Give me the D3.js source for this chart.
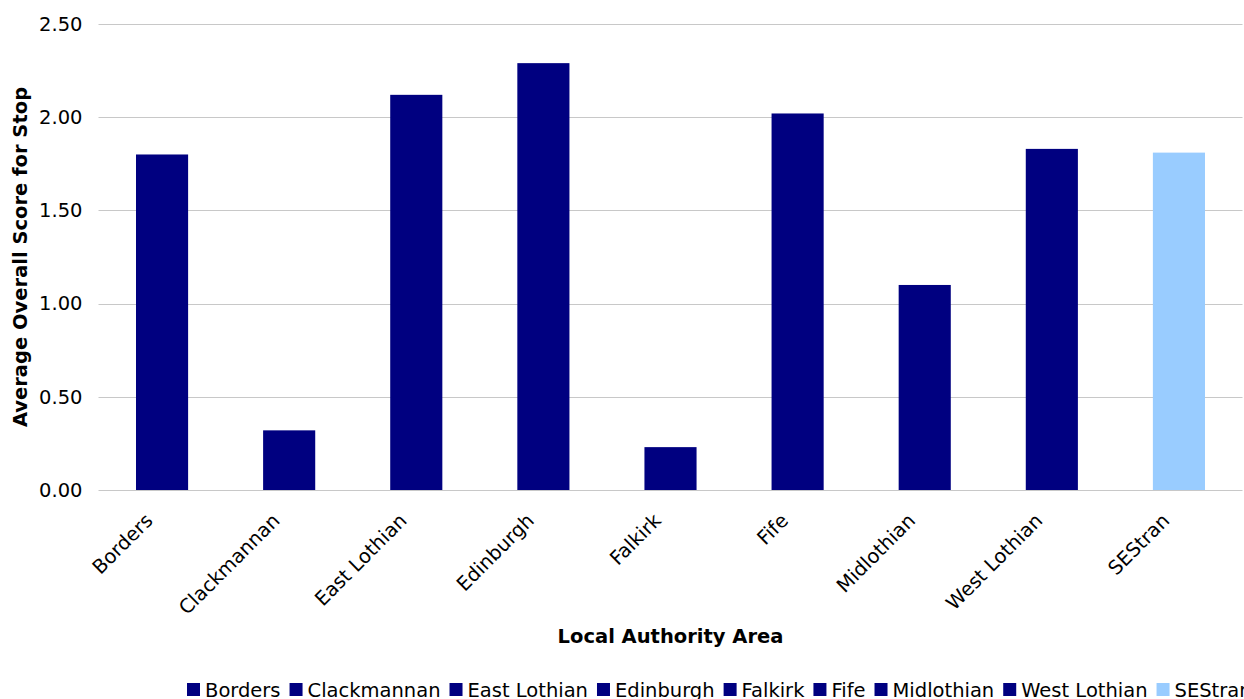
<!DOCTYPE html>
<html>
<head>
<meta charset="utf-8">
<script src="https://cdn.jsdelivr.net/npm/d3@7/dist/d3.min.js"></script>
<style>
  html, body { margin: 0; padding: 0; background: #fff; overflow: hidden; }
  svg { display: block; font-family: "DejaVu Sans", Verdana, sans-serif; }
</style>
</head>
<body>
<svg id="chart" width="1244" height="699"></svg>
<script>
// Average overall stop score by local authority area
const categories = ["Borders", "Clackmannan", "East Lothian", "Edinburgh", "Falkirk", "Fife", "Midlothian", "West Lothian", "SEStran"];
const scores = [1.80, 0.32, 2.12, 2.29, 0.23, 2.02, 1.10, 1.83, 1.81];
const yTicks = [0, 0.5, 1.0, 1.5, 2.0, 2.5];
const barColors = ["#000080", "#000080", "#000080", "#000080", "#000080", "#000080", "#000080", "#000080", "#99CCFF"];

const FS = 19.5;
const svg = d3.select("#chart");
const margin = { left: 98.5, right: 1242.5, top: 24, bottom: 490 };

const x = d3.scaleBand()
  .domain(categories)
  .range([margin.left, margin.right])
  .paddingInner(0.59)
  .paddingOuter(0.295);

const y = d3.scaleLinear()
  .domain([0, 2.5])
  .range([margin.bottom, margin.top]);

const color = d3.scaleOrdinal().domain(categories).range(barColors);

// Gridlines
svg.append("g")
  .selectAll("line")
  .data(yTicks)
  .join("line")
  .attr("x1", margin.left)
  .attr("x2", margin.right)
  .attr("y1", d => Math.round(y(d)) + 0.5)
  .attr("y2", d => Math.round(y(d)) + 0.5)
  .attr("stroke", "#c8c8c8")
  .attr("stroke-width", 1);

// Y axis labels
const yAxis = d3.axisLeft(y).tickValues(yTicks).tickFormat(d3.format(".2f")).tickSize(0).tickPadding(16);
const yg = svg.append("g").attr("transform", `translate(${margin.left},0)`).call(yAxis);
yg.select(".domain").remove();
yg.selectAll("text")
  .attr("font-family", "DejaVu Sans, Verdana, sans-serif")
  .attr("font-size", FS)
  .attr("fill", "#000");

// Bars
svg.append("g")
  .selectAll("rect")
  .data(categories)
  .join("rect")
  .attr("x", d => x(d))
  .attr("width", x.bandwidth())
  .attr("y", (d, i) => y(scores[i]))
  .attr("height", (d, i) => y(0) - y(scores[i]))
  .attr("fill", d => color(d));

// X axis category labels, rotated
const xAxis = d3.axisBottom(x).tickSize(0).tickPadding(0);
const xg = svg.append("g").attr("transform", `translate(0,${margin.bottom})`).call(xAxis);
xg.select(".domain").remove();
xg.selectAll("text")
  .attr("font-family", "DejaVu Sans, Verdana, sans-serif")
  .attr("font-size", FS)
  .attr("fill", "#000")
  .attr("text-anchor", "end")
  .attr("dy", "0.35em")
  .attr("transform", "translate(-13,27) rotate(-45)");

// Axis titles
svg.append("text")
  .attr("x", (margin.left + margin.right) / 2)
  .attr("y", 643)
  .attr("text-anchor", "middle")
  .attr("font-size", FS)
  .attr("font-weight", "bold")
  .text("Local Authority Area");

svg.append("text")
  .attr("transform", `translate(27,${(margin.top + margin.bottom) / 2}) rotate(-90)`)
  .attr("text-anchor", "middle")
  .attr("font-size", FS)
  .attr("font-weight", "bold")
  .text("Average Overall Score for Stop");

// Legend
const legend = svg.append("g").attr("transform", "translate(187,683)");
let lx = 0;
categories.forEach(c => {
  const item = legend.append("g").attr("transform", `translate(${lx},0)`);
  item.append("rect").attr("width", 13).attr("height", 13).attr("fill", color(c));
  const t = item.append("text")
    .attr("x", 18)
    .attr("y", 14)
    .attr("font-size", FS)
    .attr("fill", "#000")
    .text(c);
  lx += 18 + t.node().getComputedTextLength() + 9;
});
</script>
</body>
</html>
